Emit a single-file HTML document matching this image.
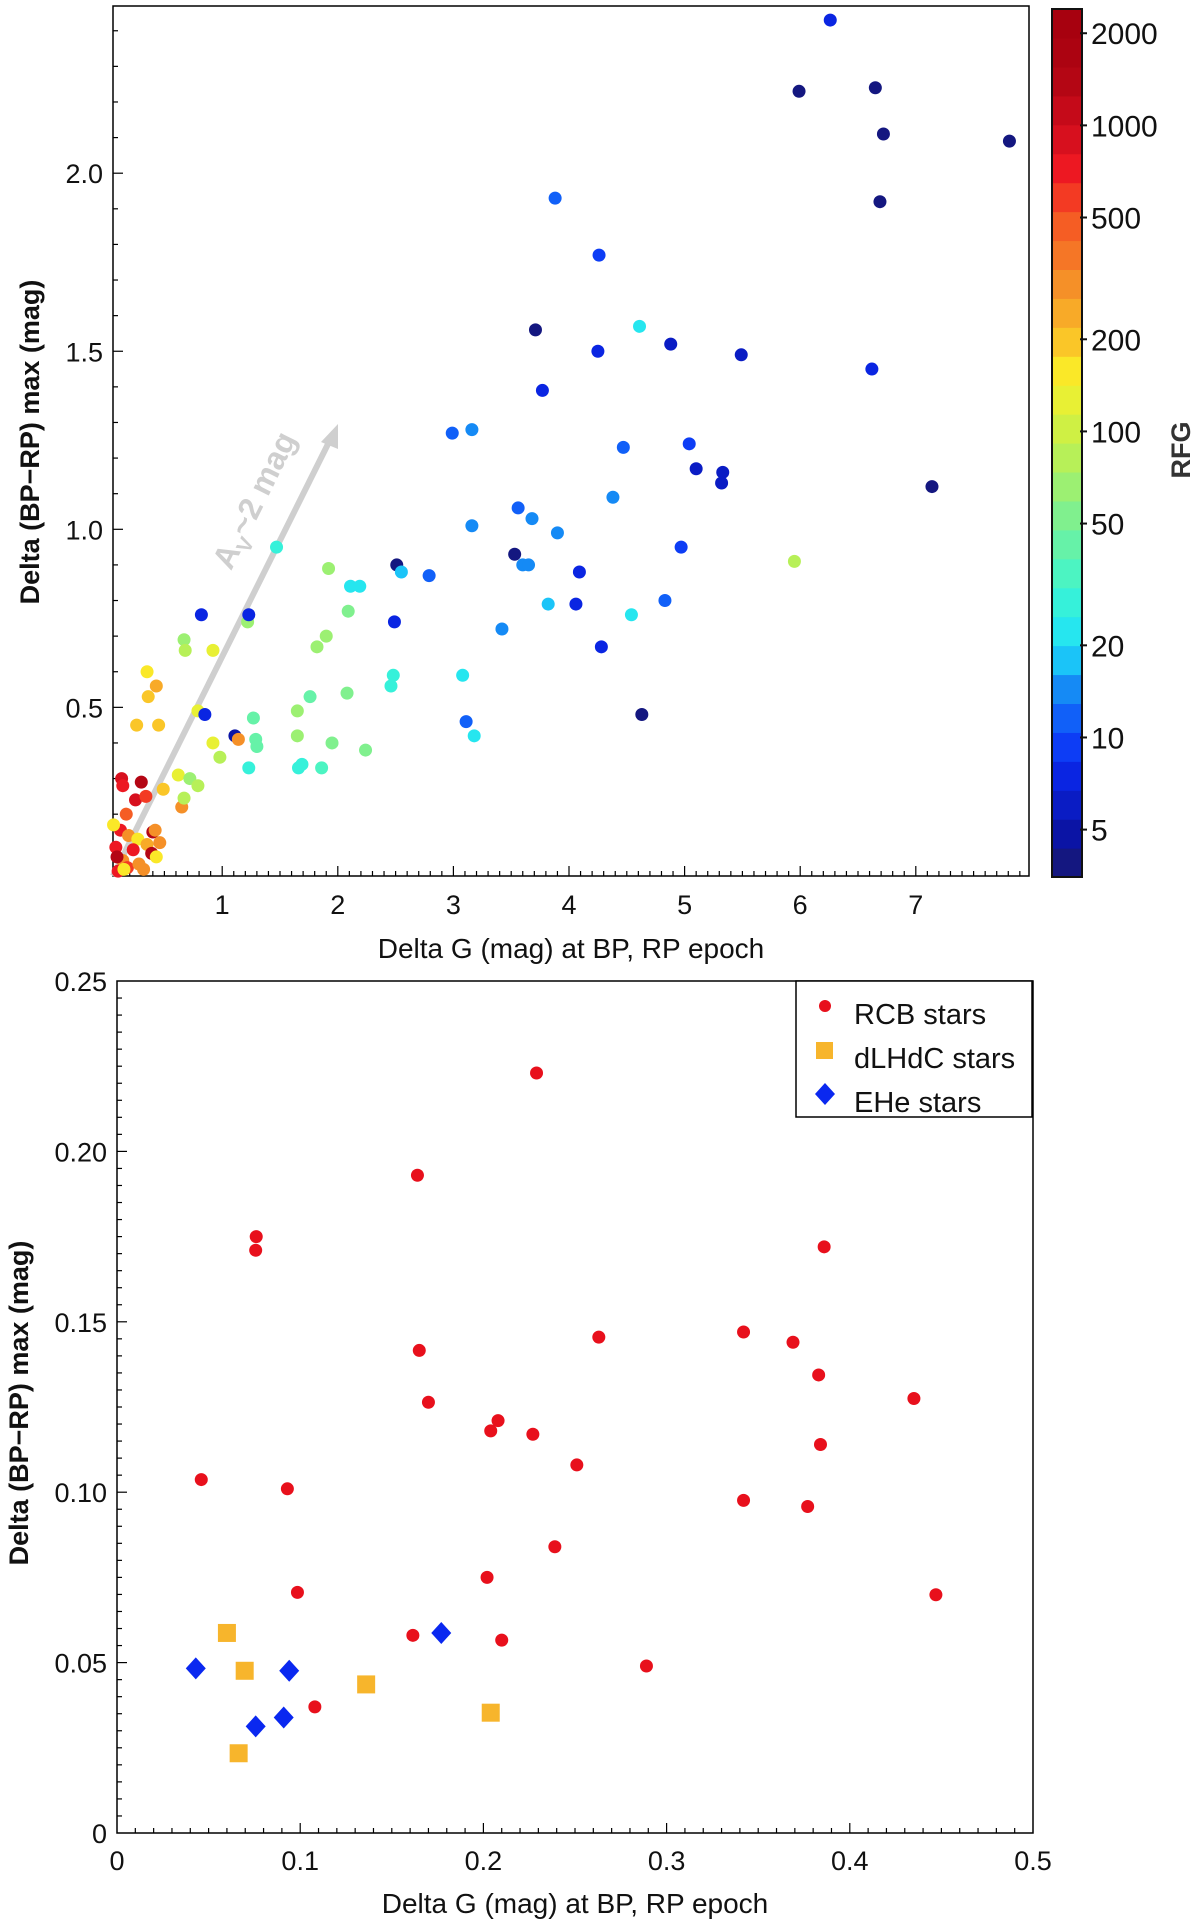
<!DOCTYPE html>
<html><head><meta charset="utf-8"><style>
html,body{margin:0;padding:0;background:#fff;}
svg{display:block;font-family:"Liberation Sans",sans-serif;}
</style></head><body>
<svg id="chart" width="1200" height="1927" viewBox="0 0 1200 1927" xmlns="http://www.w3.org/2000/svg"></svg>
<script>
// ---------- Top panel data ----------
const topX = [6.26,5.99,6.65,6.72,7.81,6.69,3.88,4.26,3.71,4.61,4.88,4.25,5.49,6.62,3.77,2.99,3.16,5.04,4.47,5.10,5.33,5.32,7.14,4.38,3.56,3.68,3.16,3.90,4.97,1.47,3.53,3.60,3.65,2.51,2.55,4.09,2.79,5.95,1.92,2.11,2.19,2.09,1.22,1.23,0.82,2.49,3.82,4.06,4.83,4.54,3.42,4.28,0.67,0.68,0.92,1.82,1.90,0.35,0.36,0.43,3.08,2.48,2.46,2.08,1.76,0.79,0.85,4.63,1.65,1.27,0.26,0.45,3.11,1.65,1.11,1.14,1.29,1.30,3.18,0.92,1.95,2.24,0.98,1.23,1.66,1.69,1.86,0.62,0.72,0.79,0.49,0.65,0.67,0.13,0.14,0.30,0.25,0.34,0.17,0.12,0.40,0.42,0.19,0.27,0.35,0.08,0.23,0.39,0.43,0.14,0.18,0.28,0.10,0.32,0.06,0.09,0.46,0.15];
const topY = [2.43,2.23,2.24,2.11,2.09,1.92,1.93,1.77,1.56,1.57,1.52,1.50,1.49,1.45,1.39,1.27,1.28,1.24,1.23,1.17,1.16,1.13,1.12,1.09,1.06,1.03,1.01,0.99,0.95,0.95,0.93,0.90,0.90,0.90,0.88,0.88,0.87,0.91,0.89,0.84,0.84,0.77,0.74,0.76,0.76,0.74,0.79,0.79,0.80,0.76,0.72,0.67,0.69,0.66,0.66,0.67,0.70,0.60,0.53,0.56,0.59,0.59,0.56,0.54,0.53,0.49,0.48,0.48,0.49,0.47,0.45,0.45,0.46,0.42,0.42,0.41,0.41,0.39,0.42,0.40,0.40,0.38,0.36,0.33,0.33,0.34,0.33,0.31,0.30,0.28,0.27,0.22,0.245,0.30,0.28,0.29,0.24,0.25,0.20,0.155,0.15,0.155,0.14,0.13,0.115,0.107,0.10,0.09,0.08,0.07,0.05,0.06,0.04,0.045,0.17,0.08,0.12,0.045];
const topRFG = [8,4,4,4,4,4,12,9,4,22,6,7,6,8,8,12,14,9,12,6,6,6,4,15,12,15,14,14,9,25,4,14,14,4,18,7,12,90,60,22,20,55,60,8,8,7,18,8,12,22,14,8,70,90,130,60,60,150,200,230,22,30,25,50,45,130,8,4,60,45,180,180,12,60,5,300,45,45,20,130,55,50,80,30,30,30,35,120,70,80,180,300,80,1000,700,1500,900,600,500,800,1500,300,300,150,250,800,700,1500,150,300,600,300,700,300,150,1500,300,150];
const cbTicks = [2000,1000,500,200,100,50,20,10,5];
const topXTicks = [1,2,3,4,5,6,7];
const topYTicks = [0.5,1.0,1.5,2.0];

// ---------- Bottom panel data ----------
const rcbX = [0.229,0.164,0.076,0.0757,0.386,0.342,0.369,0.263,0.165,0.383,0.435,0.170,0.208,0.204,0.227,0.384,0.251,0.046,0.093,0.342,0.377,0.239,0.202,0.0985,0.447,0.1615,0.210,0.289,0.108];
const rcbY = [0.223,0.193,0.175,0.171,0.172,0.147,0.144,0.1455,0.1416,0.1344,0.1275,0.1264,0.121,0.118,0.117,0.114,0.108,0.1037,0.101,0.0976,0.0958,0.084,0.075,0.0706,0.0699,0.058,0.0566,0.049,0.037];
const dlhdcX = [0.060,0.0697,0.136,0.204,0.0664];
const dlhdcY = [0.0587,0.0476,0.0436,0.0353,0.0234];
const eheX = [0.043,0.094,0.177,0.0757,0.091];
const eheY = [0.0483,0.0476,0.0587,0.0313,0.0339];
const botXTicks = [0,0.1,0.2,0.3,0.4,0.5];
const botYTicks = [0,0.05,0.10,0.15,0.20,0.25];
const botXLabels = ["0","0.1","0.2","0.3","0.4","0.5"];
const botYLabels = ["0","0.05","0.10","0.15","0.20","0.25"];

const svg = document.getElementById('chart');
const NS = 'http://www.w3.org/2000/svg';
function mk(tag, attrs, parent){const e=document.createElementNS(NS,tag);for(const k in attrs)e.setAttribute(k,attrs[k]);(parent||svg).appendChild(e);return e;}

const T = {l:113,r:1029,t:6,b:876};
const tx = v => 106.6 + v*115.6;
const ty = v => 885.4 - v*356.1;
const B = {l:117,r:1033,t:981,b:1833};
const bx = v => B.l + v/0.5*(B.r-B.l);
const by = v => B.b - v/0.25*(B.b-B.t);
const CB = {l:1052,r:1082,t:9,b:877};
const lmin = Math.log10(3.5), lmax = Math.log10(2400);
const cy = v => CB.b - (Math.log10(v)-lmin)/(lmax-lmin)*(CB.b-CB.t);
// colour anchors (RFG value -> rgb)
const cAnchorV = [3.5,5,8,10,14,20,30,50,80,100,150,200,300,500,700,1000,1500,2400];
const cAnchorC = [[25,25,110],[10,20,170],[10,40,235],[15,70,250],[20,130,245],[30,225,250],[60,245,210],[120,240,150],[180,240,90],[205,240,70],[250,240,40],[250,195,40],[245,145,40],[245,85,35],[240,25,35],[205,12,28],[175,5,18],[165,0,14]];
function cmap(v){const l=Math.log10(v);for(let i=0;i<cAnchorV.length-1;i++){const a=Math.log10(cAnchorV[i]),b=Math.log10(cAnchorV[i+1]);if(l<=b||i===cAnchorV.length-2){const t=Math.max(0,Math.min(1,(l-a)/(b-a)));const c=cAnchorC[i].map((x,j)=>Math.round(x+(cAnchorC[i+1][j]-x)*t));return `rgb(${c[0]},${c[1]},${c[2]})`;}}}
const NB = 30;
const bandVal = k => Math.pow(10, lmin + (k+0.5)/NB*(lmax-lmin));
function rfgColor(v){let t=(Math.log10(v)-lmin)/(lmax-lmin);t=Math.max(0,Math.min(0.9999,t));return cmap(bandVal(Math.floor(t*NB)));}

// ===== Top panel =====
const gTop = mk('g',{});


const tframe = mk('rect',{x:T.l,y:T.t,width:T.r-T.l,height:T.b-T.t,fill:'#fff',stroke:'#000','stroke-width':1.5},gTop);


for(let v=0.1; v<7.95; v+=0.1){const x=tx(v);if(x<T.l||x>T.r)continue;const maj=Math.abs(v-Math.round(v))<0.01;mk('line',{x1:x,x2:x,y1:T.b,y2:T.b-(maj?10:5),stroke:'#000','stroke-width':1.2},gTop);}
for(let v=0.1; v<2.5; v+=0.1){const y=ty(v);if(y<T.t||y>T.b)continue;const maj=Math.abs(v*2-Math.round(v*2))<0.01;mk('line',{x1:T.l,x2:T.l+(maj?10:5),y1:y,y2:y,stroke:'#000','stroke-width':1.2},gTop);}
topXTicks.forEach(v=>{const t=mk('text',{x:tx(v),y:T.b+38,'font-size':27,'text-anchor':'middle',fill:'#111'},gTop);t.textContent=v;});
topYTicks.forEach(v=>{const t=mk('text',{x:T.l-10,y:ty(v)+10,'font-size':27,'text-anchor':'end',fill:'#111'},gTop);t.textContent=v.toFixed(1);});
const arr = mk('line',{x1:T.l,y1:T.b,x2:330,y2:440,stroke:'#cfcfcf','stroke-width':6},gTop);


const ah = mk('polygon',{points:'338,424 321,442 338,449',fill:'#cfcfcf'},gTop);


const at = mk('text',{x:0,y:0,'font-size':32,fill:'#cfcfcf','font-weight':'bold',transform:'translate(264,505) rotate(-63.6)','text-anchor':'middle'},gTop);
at.innerHTML='A<tspan font-size="21" dy="8">V</tspan><tspan dy="-8">~2 mag</tspan>';


topX.forEach((v,i)=>{const c=mk('circle',{cx:tx(v),cy:ty(topY[i]),r:6.5,fill:rfgColor(topRFG[i])},gTop);});
const txt1 = mk('text',{x:571,y:958,'font-size':28,'text-anchor':'middle',fill:'#111'},gTop);
txt1.textContent='Delta G  (mag)  at BP, RP epoch';


const tyt = mk('text',{x:0,y:0,'font-size':27,'text-anchor':'middle',fill:'#111','font-weight':'bold',transform:'translate(39,442) rotate(-90)'},gTop);
tyt.textContent='Delta (BP−RP) max   (mag)';



// colorbar
const gCB = mk('g',{});


for(let k=0;k<NB;k++){const y0=CB.b-(k+1)/NB*(CB.b-CB.t);mk('rect',{x:CB.l,y:y0,width:CB.r-CB.l,height:(CB.b-CB.t)/NB+0.6,fill:cmap(bandVal(k))},gCB);}
mk('rect',{x:CB.l,y:CB.t,width:CB.r-CB.l,height:CB.b-CB.t,fill:'none',stroke:'#111','stroke-width':2},gCB);
cbTicks.forEach(v=>{const y=cy(v);mk('line',{x1:CB.r-2,x2:CB.r+5,y1:y,y2:y,stroke:'#111','stroke-width':2},gCB);const t=mk('text',{x:CB.r+9,y:y+11,'font-size':30,fill:'#111'},gCB);t.textContent=v;});
const cbt = mk('text',{x:0,y:0,'font-size':27,'font-weight':'bold','text-anchor':'middle',fill:'#333',transform:'translate(1190,450) rotate(-90)'},gCB);
cbt.textContent='RFG';



// ===== Bottom panel =====
const gB = mk('g',{});


const bframe = mk('rect',{x:B.l,y:B.t,width:B.r-B.l,height:B.b-B.t,fill:'#fff',stroke:'#000','stroke-width':1.5},gB);


for(let i=1;i<50;i++){const x=bx(i*0.01);const maj=i%10===0;mk('line',{x1:x,x2:x,y1:B.b,y2:B.b-(maj?10:5),stroke:'#000','stroke-width':1.2},gB);}
for(let i=1;i<50;i++){const y=by(i*0.005);const maj=i%10===0;mk('line',{x1:B.l,x2:B.l+(maj?10:5),y1:y,y2:y,stroke:'#000','stroke-width':1.2},gB);}
botXTicks.forEach((v,i)=>{const t=mk('text',{x:bx(v),y:B.b+37,'font-size':27,'text-anchor':'middle',fill:'#111'},gB);t.textContent=botXLabels[i];});
botYTicks.forEach((v,i)=>{const t=mk('text',{x:B.l-10,y:by(v)+10,'font-size':27,'text-anchor':'end',fill:'#111'},gB);t.textContent=botYLabels[i];});
rcbX.forEach((v,i)=>{const c=mk('circle',{cx:bx(v),cy:by(rcbY[i]),r:6.5,fill:'#e8101c'},gB);});
dlhdcX.forEach((v,i)=>{const c=mk('rect',{x:bx(v)-9,y:by(dlhdcY[i])-9,width:18,height:18,fill:'#f7b52c'},gB);});
eheX.forEach((v,i)=>{const x=bx(v),y=by(eheY[i]);const c=mk('polygon',{points:`${x},${y-11} ${x+10},${y} ${x},${y+11} ${x-10},${y}`,fill:'#0a28f0'},gB);});
const lg = mk('g',{});


mk('rect',{x:796,y:981,width:236,height:136,fill:'#fff',stroke:'#000','stroke-width':1.5},lg);
mk('circle',{cx:825,cy:1006,r:6,fill:'#e8101c'},lg);
mk('rect',{x:816,y:1042,width:17,height:17,fill:'#f7b52c'},lg);
mk('polygon',{points:'825,1083 835,1094 825,1105 815,1094',fill:'#0a28f0'},lg);
[['RCB stars',1024],['dLHdC stars',1068],['EHe stars',1112]].forEach(([s,y])=>{const t=mk('text',{x:854,y:y,'font-size':29,fill:'#111'},lg);t.textContent=s;});
const bxt = mk('text',{x:575,y:1913,'font-size':28,'text-anchor':'middle',fill:'#111'},gB);
bxt.textContent='Delta G  (mag)  at BP, RP epoch';


const byt = mk('text',{x:0,y:0,'font-size':27,'font-weight':'bold','text-anchor':'middle',fill:'#111',transform:'translate(28,1403) rotate(-90)'},gB);
byt.textContent='Delta (BP−RP) max   (mag)';


</script>
</body></html>
